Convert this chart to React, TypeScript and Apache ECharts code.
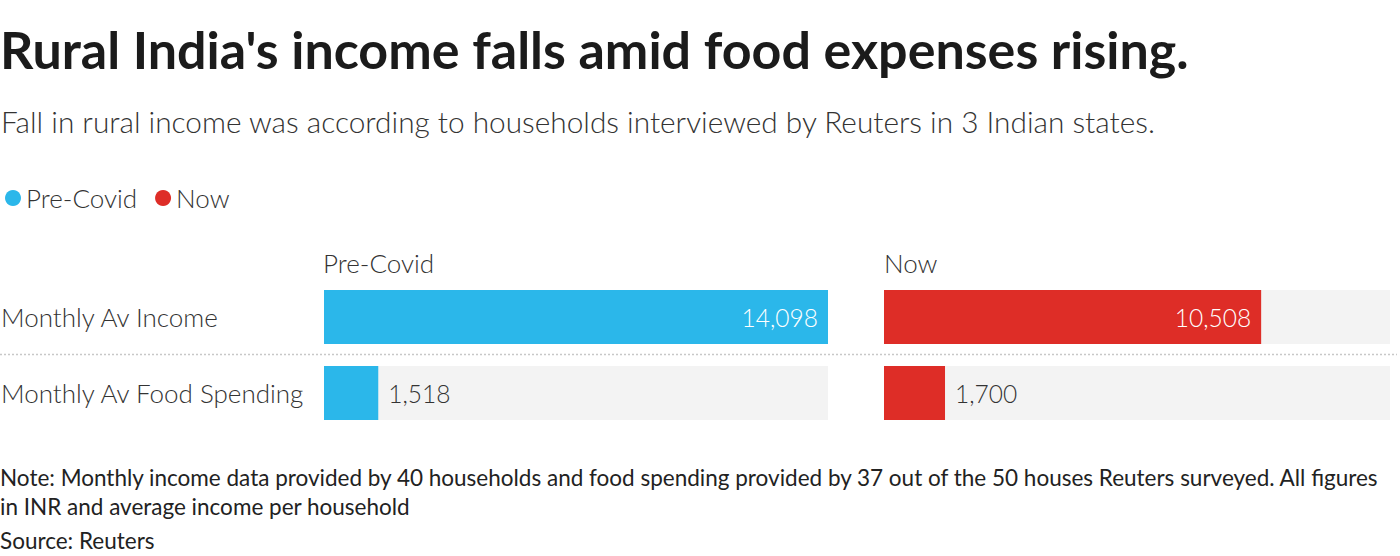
import React, { useEffect, useRef } from "react";
import * as echarts from "echarts";

const categories = ["Monthly Av Income", "Monthly Av Food Spending"];
const seriesNames = ["Pre-Covid", "Now"];
const preCovidValues = [14098, 1518];
const nowValues = [10508, 1700];
const colors = ["#2bb7ea", "#de2d27"];

const titleText = "Rural India's income falls amid food expenses rising.";
const subtitleText =
  "Fall in rural income was according to households interviewed by Reuters in 3 Indian states.";
const noteLines = [
  "Note: Monthly income data provided by 40 households and food spending provided by 37 out of the 50 houses Reuters surveyed. All figures",
  "in INR and average income per household",
];
const sourceText = "Source: Reuters";

const FONT = "Lato, 'Noto Sans', sans-serif";

export default function App() {
  const ref = useRef<HTMLDivElement>(null);
  useEffect(() => {
    if (!ref.current) return;
    const chart = echarts.init(ref.current, undefined, { renderer: "svg" });
    const maxVal = Math.max(...preCovidValues, ...nowValues);
    const fmt = (v: number) => v.toLocaleString("en-US");
    const mkData = (vals: number[]) =>
      vals.map((v) => {
        const inside = v > maxVal * 0.3;
        return {
          value: v,
          label: {
            show: true,
            position: inside ? "insideRight" : "right",
            distance: 10,
            color: inside ? "#ffffff" : "#333333",
            fontSize: 24.5,
            fontFamily: FONT,
            fontWeight: 300,
            formatter: (p: any) => fmt(p.value),
          },
        };
      });
    const barBase = {
      type: "bar",
      barWidth: 54,
      showBackground: true,
      backgroundStyle: { color: "#f3f3f3" },
    };
    const valueAxis = (gi: number) => ({
      type: "value",
      gridIndex: gi,
      min: 0,
      max: maxVal,
      show: false,
    });
    const catAxis = (gi: number, showLabel: boolean) => ({
      type: "category",
      gridIndex: gi,
      data: categories,
      inverse: true,
      axisLine: { show: false },
      axisTick: { show: false },
      splitLine: { show: false },
      axisLabel: {
        show: showLabel,
        align: "left",
        margin: 323,
        fontSize: 26,
        fontFamily: FONT,
        fontWeight: 300,
        color: "#333333",
      },
    });
    const textEl = (x: number, y: number, text: string, fontSize: number, fontWeight: any, fill: string) => ({
      type: "text",
      x,
      y,
      style: { text, fontSize, fontWeight, fontFamily: FONT, fill, verticalAlign: "middle" },
    });
    chart.setOption({
      animation: false,
      textStyle: { fontFamily: FONT },
      legend: {
        data: seriesNames,
        left: 0,
        top: 180,
        icon: "circle",
        itemWidth: 16,
        itemHeight: 16,
        itemGap: 18,
        textStyle: { fontSize: 26, color: "#333333", fontFamily: FONT, fontWeight: 300 },
      },
      grid: [
        { left: 324, top: 279, width: 504, height: 152, containLabel: false, outerBoundsMode: "none" },
        { left: 884, top: 279, width: 506, height: 152, containLabel: false, outerBoundsMode: "none" },
      ],
      xAxis: [valueAxis(0), valueAxis(1)],
      yAxis: [catAxis(0, true), catAxis(1, false)],
      series: [
        {
          ...barBase,
          name: seriesNames[0],
          xAxisIndex: 0,
          yAxisIndex: 0,
          itemStyle: { color: colors[0] },
          data: mkData(preCovidValues),
        },
        {
          ...barBase,
          name: seriesNames[1],
          xAxisIndex: 1,
          yAxisIndex: 1,
          itemStyle: { color: colors[1] },
          data: mkData(nowValues),
        },
      ],
      graphic: [
        textEl(0, 49, titleText, 52, "bold", "#1b1b1b"),
        textEl(1, 121, subtitleText, 29.8, 300, "#333333"),
        textEl(323, 263, seriesNames[0], 26, 300, "#333333"),
        textEl(884, 263, seriesNames[1], 26, 300, "#333333"),
        {
          type: "line",
          shape: { x1: 0, y1: 354.5, x2: 1397, y2: 354.5 },
          style: { stroke: "#c8c8c8", lineWidth: 1.5, lineDash: [2, 2] },
        },
        textEl(0, 477, noteLines[0], 22.5, "normal", "#222222"),
        textEl(0, 506, noteLines[1], 22.5, "normal", "#222222"),
        textEl(0, 540, sourceText, 22.5, "normal", "#222222"),
      ],
    });
    return () => chart.dispose();
  }, []);
  return (
    <div
      ref={ref}
      style={{ position: "absolute", left: 0, top: 0, width: 1400, height: 556 }}
    />
  );
}
